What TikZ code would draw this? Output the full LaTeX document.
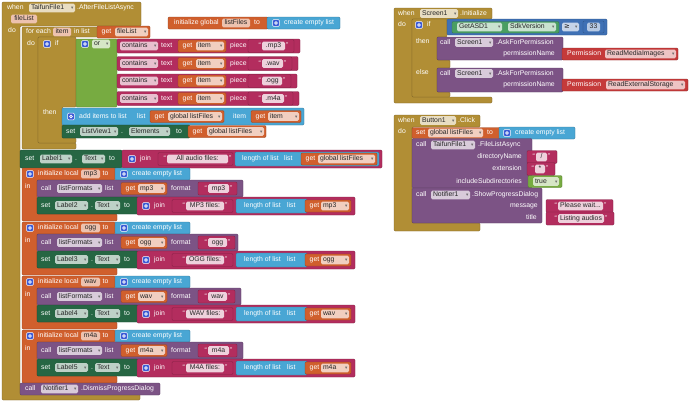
\documentclass[tikz,border=0pt]{standalone}
\usepackage{fontspec}
\setmainfont{Liberation Sans}
\newfontfamily\djv{DejaVu Sans}
\definecolor{gold}{HTML}{B18E35}
\definecolor{vor}{HTML}{D05F2D}
\definecolor{lblue}{HTML}{49A6D4}
\definecolor{txm}{HTML}{B32D5E}
\definecolor{dgr}{HTML}{266643}
\definecolor{pur}{HTML}{7C5385}
\definecolor{lgr}{HTML}{77AB41}
\definecolor{mblue}{HTML}{3F71B5}
\definecolor{cgr}{HTML}{4A9E62}
\definecolor{pred}{HTML}{C53A3A}
\definecolor{icb}{HTML}{3B5BD6}
\tikzset{
  T/.style={anchor=west,inner sep=0pt,text=white,font=\fontsize{6.85}{8}\selectfont,text height=5pt,text depth=1.4pt},
  TD/.style={T,text=black!85},
  BK/.style={line width=0.4pt,rounded corners=1.2pt}
}
\newcommand\blk[5]{\filldraw[BK,fill=#1,draw=#1!72!black] (#2,#3) rectangle (#4,#5);}
\newcommand\poly[2]{\filldraw[BK,fill=#1,draw=#1!72!black] #2;}
\newcommand\tx[3]{\node[T] at (#1,#2) {#3};}
\newcommand\txr[3]{\node[T,anchor=east] at (#1,#2) {#3};}
\newcommand\dd[5]{\fill[fill=#1!30!white,rounded corners=1.5pt] (#2,#4-4.3) rectangle (#3,#4+4.3);
  \node[TD] at (#2+1.8,#4) {#5};
  \node[TD,anchor=east,text=black!60,font={\djv\fontsize{4.6}{5}\selectfont}] at (#3-1.4,#4) {▾};}
\newcommand\fd[5]{\fill[fill=#1!38!white,rounded corners=1.5pt] (#2,#4-4.3) rectangle (#3,#4+4.3);
  \node[TD,anchor=center] at ({(#2+#3)/2},#4) {#5};}
\newcommand\ico[2]{\filldraw[fill=icb,draw=white,line width=0.5pt,rounded corners=0.8pt] (#1-3.3,#2-3.3) rectangle (#1+3.3,#2+3.3);
  \draw[white,line width=0.7pt] (#1,#2) circle (1.3);}
\newcommand\strb[6]{\blk{txm}{#1}{#3-6.5}{#2}{#3+6.5}
  \fill[txm!22!white,rounded corners=1.5pt] (#5,#3-4.3) rectangle (#6,#3+4.3);
  \node[TD,anchor=center] at ({(#5+#6)/2},#3) {#4};
  \node[T,anchor=east] at (#5-1,#3) {\textquotedblleft};
  \node[T] at (#6+1,#3) {\textquotedblright};}
\newcommand\getb[5]{\blk{vor}{#1}{#3-6}{#2}{#3+6} \tx{#1+4.5}{#3}{get} \dd{vor}{#4}{#2-2}{#3}{#5}}
\newcommand\cont[4]{\blk{txm}{117}{#1-7}{#2}{#1+7}
  \dd{txm}{120}{158}{#1}{contains} \tx{161}{#1}{text}
  \getb{178}{226}{#1}{196}{item}
  \tx{230}{#1}{piece}
  \strb{248}{#4}{#1}{#3}{262}{#4-9}}
\newcommand\grp[7]{%
  \poly{vor}{(22,#1)--(115,#1)--(115,#1+12)--(37,#1+12)--(37,#1+46)--(117,#1+46)--(117,#1+53)--(22,#1+53)--cycle}
  \ico{30}{#1+6} \tx{38}{#1+6}{initialize local} \fd{vor}{81}{100}{#1+6}{#2} \tx{102.5}{#1+6}{to}
  \blk{lblue}{115}{#1}{190}{#1+12} \ico{124}{#1+6} \tx{132}{#1+6}{create empty list}
  \tx{25}{#1+19}{in}
  \blk{pur}{37}{#1+12}{#5}{#1+29} \tx{41}{#1+20.5}{call} \dd{pur}{57}{102}{#1+20.5}{listFormats} \tx{105}{#1+20.5}{list}
  \getb{121}{167}{#1+20.5}{138}{#2} \tx{171}{#1+20.5}{format}
  \strb{198}{#6}{#1+20.5}{#2}{208}{#6-8}
  \blk{dgr}{37}{#1+29}{138}{#1+46} \tx{41}{#1+37.5}{set} \dd{dgr}{55}{88}{#1+37.5}{#3} \tx{91}{#1+37.5}{.} \dd{dgr}{95}{120}{#1+37.5}{Text} \tx{124}{#1+37.5}{to}
  \blk{txm}{137}{#1+29}{355}{#1+47} \ico{146}{#1+38} \tx{154}{#1+38}{join}
  \strb{172}{233}{#1+38}{#4}{186}{224}
  \blk{lblue}{236}{#1+31}{#7}{#1+45} \tx{244}{#1+38}{length of list} \tx{287}{#1+38}{list}
  \getb{305}{351}{#1+38}{321}{#2}}
\begin{document}
\begin{tikzpicture}[x=1pt,y=-1pt]
\useasboundingbox (0,0) rectangle (690,402);
\fill[white] (0,0) rectangle (690,402);
% ===== Event TaifunFile1.AfterFileListAsync =====
\poly{gold}{(2,2)--(141,2)--(141,26)--(20,26)--(20,394)--(140,394)--(140,400)--(2,400)--cycle}
\tx{7}{8}{when} \dd{gold}{29}{75}{8}{TaifunFile1} \tx{77}{8}{.AfterFileListAsync}
\fd{vor}{11}{37}{19}{fileList}
\tx{8}{31}{do}
% global init
\blk{vor}{168}{17}{268}{29} \tx{174}{23}{initialize global} \fd{vor}{222}{250}{23}{listFiles} \tx{254}{23}{to}
\blk{lblue}{267}{17}{340}{29} \ico{276}{23} \tx{284}{23}{create empty list}
% for each
\poly{gold}{(22,27)--(98,27)--(98,37)--(38,37)--(38,143)--(76,143)--(76,149)--(22,149)--cycle}
\tx{26}{32}{for each} \fd{vor}{53}{71}{32}{item} \tx{74}{32}{in list}
\getb{97}{150}{32}{115}{fileList}
\tx{27}{44}{do}
% if
\poly{gold}{(38,37)--(76,37)--(76,107)--(62,107)--(62,138)--(76,138)--(76,143)--(38,143)--cycle}
\ico{47}{44} \tx{55}{44}{if} \tx{43}{113}{then}
% or
\blk{lgr}{76}{39}{117}{107} \ico{85}{44} \dd{lgr}{92}{110}{44}{or}
\cont{46}{300}{.mp3}{294}
\cont{63.5}{298}{.wav}{292}
\cont{81}{297}{.ogg}{291}
\cont{98.5}{299}{.m4a}{293}
% add items
\blk{lblue}{62}{108}{304}{125} \ico{71}{116.5} \tx{79}{116.5}{add items to list} \tx{137}{116.5}{list}
\getb{150}{224}{116.5}{168}{global listFiles} \tx{233}{116.5}{item} \getb{251}{301}{116.5}{268}{item}
% set ListView1
\blk{dgr}{62}{125}{190}{138} \tx{66}{131.5}{set} \dd{dgr}{80}{118}{131.5}{ListView1} \tx{121}{131.5}{.} \dd{dgr}{129}{170}{131.5}{Elements} \tx{176}{131.5}{to}
\getb{188}{266}{131.5}{207}{global listFiles}
% set Label1
\blk{dgr}{20}{150}{122}{168} \tx{25}{159}{set} \dd{dgr}{40}{72}{159}{Label1} \tx{75}{159}{.} \dd{dgr}{82}{105}{159}{Text} \tx{109}{159}{to}
\blk{txm}{122}{150}{382}{168} \ico{132}{159} \tx{140}{159}{join}
\strb{158}{233}{159}{All audio files:}{167}{228}
\blk{lblue}{235}{152}{379}{166} \tx{242}{159}{length of list} \tx{284}{159}{list}
\getb{301}{377}{159}{318}{global listFiles}
% groups
\grp{168}{mp3}{Label2}{MP3 files:}{243}{237}{307}
\grp{222}{ogg}{Label3}{OGG files:}{238}{235}{307}
\grp{276}{wav}{Label4}{WAV files:}{241}{235}{307}
\grp{330}{m4a}{Label5}{M4A files:}{243}{237}{307}
% dismiss
\blk{pur}{20}{383}{160}{395} \tx{25}{389}{call} \dd{pur}{41}{78}{389}{Notifier1} \tx{81}{389}{.DismissProgressDialog}
% ===== Screen1.Initialize =====
\poly{gold}{(394,8)--(492,8)--(492,19)--(412,19)--(412,97)--(492,97)--(492,103)--(394,103)--cycle}
\tx{398}{13.5}{when} \dd{gold}{420}{458}{13.5}{Screen1} \tx{460}{13.5}{.Initialize} \tx{398}{25}{do}
\poly{gold}{(412,19)--(447,19)--(447,37)--(437,37)--(437,60)--(450,60)--(450,68)--(437,68)--(437,92)--(450,92)--(450,97)--(412,97)--cycle}
\ico{419}{25} \tx{427}{25}{if} \tx{416}{42}{then} \tx{416}{73}{else}
\blk{mblue}{447}{19}{607}{35} \blk{cgr}{452}{21.5}{559}{33}
\dd{cgr}{457}{502}{27}{GetASD1} \dd{cgr}{508}{556}{27}{SdkVersion}
\dd{mblue}{562}{579}{27}{{\djv ≥}}
\blk{mblue}{583}{21}{604}{33} \fd{mblue}{587}{600}{27}{33}
\blk{pur}{437}{37}{563}{60} \tx{440}{42.5}{call} \dd{pur}{455}{493}{42.5}{Screen1} \tx{496}{42.5}{.AskForPermission} \txr{555}{54}{permissionName}
\blk{pred}{562}{48}{678}{60} \tx{567}{54}{Permission} \dd{pred}{605}{676}{54}{ReadMediaImages}
\blk{pur}{437}{68}{563}{92} \tx{440}{73.5}{call} \dd{pur}{455}{493}{73.5}{Screen1} \tx{496}{73.5}{.AskForPermission} \txr{555}{85}{permissionName}
\blk{pred}{562}{79}{688}{91} \tx{567}{85}{Permission} \dd{pred}{606}{685}{85}{ReadExternalStorage}
% ===== Button1.Click =====
\poly{gold}{(394,115)--(480,115)--(480,127)--(412,127)--(412,223)--(480,223)--(480,231)--(394,231)--cycle}
\tx{398}{120.5}{when} \dd{gold}{420}{456}{120.5}{Button1} \tx{458}{120.5}{.Click} \tx{398}{132}{do}
\blk{vor}{412}{127.5}{500}{138.5} \tx{416}{133}{set} \dd{vor}{428}{483}{133}{global listFiles} \tx{487}{133}{to}
\blk{lblue}{499}{127}{575}{139} \ico{507}{133} \tx{515}{133}{create empty list}
\blk{pur}{412}{138.5}{532}{188} \tx{416}{145}{call} \dd{pur}{431}{475}{145}{TaifunFile1} \tx{478}{145}{.FileListAsync}
\txr{522}{157}{directoryName} \strb{527}{557}{157}{/}{536}{547}
\txr{522}{169}{extension} \strb{527}{555}{169}{*}{535}{545}
\txr{522}{181.5}{includeSubdirectories} \blk{lgr}{528}{175.5}{562}{187.5} \dd{lgr}{533}{559}{181.5}{true}
\blk{pur}{412}{188}{542}{223} \tx{416}{195}{call} \dd{pur}{431}{470}{195}{Notifier1} \tx{472}{195}{.ShowProgressDialog}
\txr{538}{206}{message} \strb{546}{613}{206}{Please wait...}{558}{603}
\txr{537}{218}{title} \strb{546}{614}{218.5}{Listing audios}{558}{604}
\end{tikzpicture}
\end{document}
